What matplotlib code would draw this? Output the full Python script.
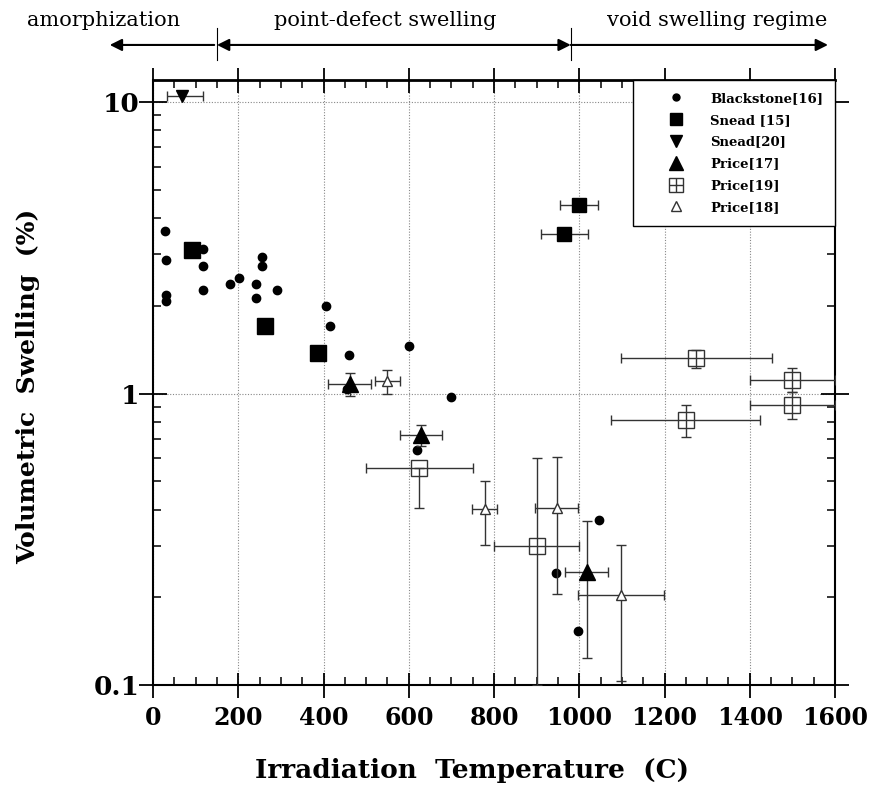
import numpy as np
import matplotlib.pyplot as plt
from matplotlib.lines import Line2D
from matplotlib.legend_handler import HandlerTuple
from matplotlib.ticker import LogLocator, MultipleLocator, FixedLocator, FixedFormatter

plt.rcParams['font.family'] = ['DejaVu Serif']

# Blackstone[16] - plain points
bl_temp = [28, 30, 30, 30, 117, 117, 117, 181, 202, 242, 242, 256, 256, 291,
           406, 415, 460, 455, 600, 699, 619, 945, 1046, 997]
bl_swell = [3.6, 2.88, 2.18, 2.08, 3.14, 2.73, 2.26, 2.37, 2.5, 2.37, 2.13, 2.93, 2.73, 2.27,
            2.0, 1.70, 1.36, 1.04, 1.46, 0.97, 0.64, 0.243, 0.367, 0.153]

# Snead [15]
sn15_temp = [92, 263, 386]
sn15_swell = [3.1, 1.70, 1.38]
sn15e_temp = [1000, 965]
sn15e_swell = [4.43, 3.54]
sn15e_xerr = [45, 55]

# Snead[20]
sn20_temp = [67]
sn20_swell = [10.5]
sn20_xerr = [[35], [50]]

# Price[17]
p17_temp = [461, 629, 1017]
p17_swell = [1.08, 0.72, 0.244]
p17_xerr = [50, 50, 50]
p17_yerr = [0.1, 0.06, 0.12]

# Price[19]
p19_temp = [625, 900, 1250, 1275, 1500, 1500]
p19_swell = [0.556, 0.30, 0.81, 1.32, 1.11, 0.915]
p19_xerr = [125, 100, 175, 177, 100, 100]
p19_yerr_lo = [0.15, 0.20, 0.10, 0.10, 0.10, 0.10]
p19_yerr_hi = [0.0, 0.30, 0.10, 0.09, 0.11, 0.10]

# Price[18]
p18_temp = [550, 778, 947, 1098]
p18_swell = [1.10, 0.403, 0.405, 0.203]
p18_xerr = [30, 30, 50, 100]
p18_yerr = [0.1, 0.1, 0.2, 0.1]

regimes = ['amorphization', 'point-defect swelling', 'void swelling regime']
regime_edges = [-108, 150, 980, 1590]
regime_label_x = [-117, 544, 1323]

fig = plt.figure(figsize=(8.75, 7.87), dpi=100)
ax = fig.add_axes([0.1749, 0.1296, 0.7794, 0.7687])

eb = dict(ecolor='#333333', elinewidth=1.0, capsize=3.5, capthick=1.0, linestyle='none')

ax.plot(bl_temp, bl_swell, 'o', color='black', ms=6, zorder=4)
ax.plot(sn15_temp, sn15_swell, 's', color='black', ms=11, zorder=4)
ax.errorbar(sn15e_temp, sn15e_swell, xerr=sn15e_xerr, fmt='s', color='black', ms=10, zorder=4, **eb)
ax.errorbar(sn20_temp, sn20_swell, xerr=sn20_xerr, fmt='v', color='black', ms=9, zorder=4, **eb)
ax.errorbar(p17_temp, p17_swell, xerr=p17_xerr, yerr=p17_yerr, fmt='^', color='black', ms=11,
            zorder=4, **eb)
ax.errorbar(p19_temp, p19_swell, xerr=p19_xerr, yerr=[p19_yerr_lo, p19_yerr_hi], fmt='s',
            mfc='none', mec='#333333', mew=1.0, ms=12, zorder=3, **eb)
ax.errorbar(p18_temp, p18_swell, xerr=p18_xerr, yerr=p18_yerr, fmt='^', mfc='white',
            mec='#333333', mew=1.0, ms=7, zorder=4, **eb)

ax.set_yscale('log')
ax.set_xlim(0, 1600)
ax.set_ylim(0.1, 11.9)

ax.xaxis.set_major_locator(MultipleLocator(200))
ax.xaxis.set_minor_locator(MultipleLocator(50))
ax.yaxis.set_major_locator(FixedLocator([0.1, 1, 10]))
ax.yaxis.set_major_formatter(FixedFormatter(['0.1', '1', '10']))
ax.yaxis.set_minor_locator(LogLocator(base=10, subs=np.arange(2, 10)))
ax.yaxis.set_minor_formatter(FixedFormatter([]))

ax.tick_params(axis='x', which='major', direction='inout', length=18, width=1.3,
               top=True, labelsize=17, pad=6)
ax.tick_params(axis='y', which='major', direction='inout', length=20, width=1.3,
               right=True, labelsize=19, pad=0)
ax.tick_params(which='minor', direction='in', length=6, width=1.1, top=True, right=True)
for lab in ax.get_xticklabels() + ax.get_yticklabels():
    lab.set_fontweight('bold')

for sp in ax.spines.values():
    sp.set_linewidth(1.5)
ax.spines['top'].set_linewidth(2.0)

ax.grid(True, which='major', linestyle=(0, (1, 1.5)), color='#888888', linewidth=0.8)
ax.set_axisbelow(True)

ax.set_xlabel('Irradiation  Temperature  (C)', fontsize=19, fontweight='bold')
ax.set_ylabel('Volumetric  Swelling  (%)', fontsize=18, fontweight='bold')
ax.xaxis.set_label_coords(0.468, -0.12)
ax.yaxis.set_label_coords(-0.165, 0.494)

# regime annotations above the plot
tr = ('data', 'axes fraction')
ax.annotate('', xy=(regime_edges[0], 1.058), xytext=(regime_edges[1], 1.058),
            xycoords=tr, textcoords=tr, annotation_clip=False,
            arrowprops=dict(arrowstyle='-|>', color='black', lw=1.5, mutation_scale=18))
ax.annotate('', xy=(regime_edges[1], 1.058), xytext=(regime_edges[2], 1.058),
            xycoords=tr, textcoords=tr, annotation_clip=False,
            arrowprops=dict(arrowstyle='<|-|>', color='black', lw=1.5, mutation_scale=18,
                            shrinkA=0, shrinkB=0))
ax.annotate('', xy=(regime_edges[3], 1.058), xytext=(regime_edges[2], 1.058),
            xycoords=tr, textcoords=tr, annotation_clip=False,
            arrowprops=dict(arrowstyle='-|>', color='black', lw=1.5, mutation_scale=18,
                            shrinkA=0))
for xb in regime_edges[1:3]:
    ax.plot([xb, xb], [1.033, 1.086], color='black', lw=0.8,
            transform=ax.get_xaxis_transform(), clip_on=False)
for name, xc in zip(regimes, regime_label_x):
    ax.text(xc, 1.099, name, transform=ax.get_xaxis_transform(), ha='center', va='center',
            fontsize=15)

handles = [
    Line2D([], [], marker='o', color='black', ls='none', ms=5),
    Line2D([], [], marker='s', color='black', ls='none', ms=9),
    Line2D([], [], marker='v', color='black', ls='none', ms=8),
    Line2D([], [], marker='^', color='black', ls='none', ms=10),
    (Line2D([], [], marker='s', mfc='white', mec='#333333', ls='none', ms=10),
     Line2D([], [], marker='+', color='#333333', ls='none', ms=10, mew=1.0)),
    Line2D([], [], marker='^', mfc='white', mec='#333333', ls='none', ms=7),
]
labels = ['Blackstone[16]', 'Snead [15]', 'Snead[20]', 'Price[17]', 'Price[19]', 'Price[18]']
leg = ax.legend(handles, labels, loc='upper right', bbox_to_anchor=(1, 1), borderaxespad=0,
                fancybox=False, framealpha=1, edgecolor='black',
                prop=dict(size=9.5, weight='bold'),
                handler_map={tuple: HandlerTuple(ndivide=1, pad=0)},
                labelspacing=0.67, handletextpad=0.25, borderpad=0.9, handlelength=4.7)
leg.get_frame().set_linewidth(1.0)

fig.savefig('out.png', dpi=100)
